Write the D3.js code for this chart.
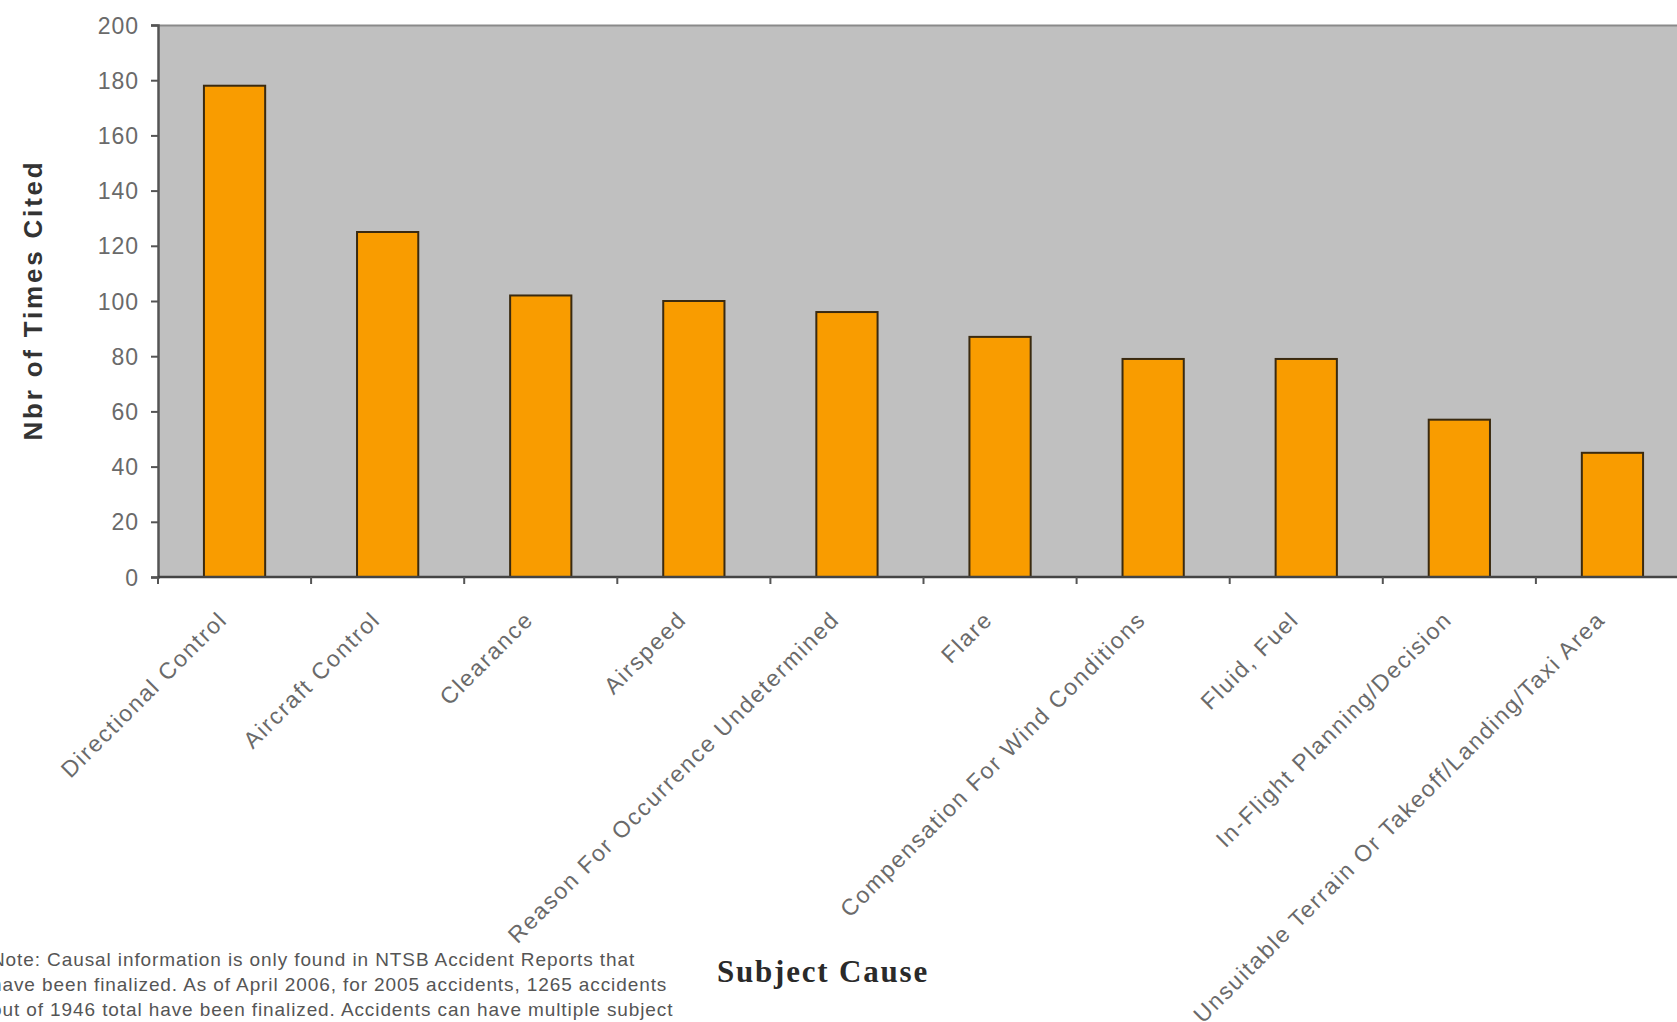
<!DOCTYPE html>
<html>
<head>
<meta charset="utf-8">
<script src="https://cdn.jsdelivr.net/npm/d3@7"></script>
<style>
  body { margin: 0; background: #fff; }
  svg { display: block; }
</style>
</head>
<body>
<div class="bar-chart"><svg></svg></div>
<script>
const causes = [
  "Directional Control",
  "Aircraft Control",
  "Clearance",
  "Airspeed",
  "Reason For Occurrence Undetermined",
  "Flare",
  "Compensation For Wind Conditions",
  "Fluid, Fuel",
  "In-Flight Planning/Decision",
  "Unsuitable Terrain Or Takeoff/Landing/Taxi Area",
];
const timesCited = [178, 125, 102, 100, 96, 87, 79, 79, 57, 45];
const yTicks = [0, 20, 40, 60, 80, 100, 120, 140, 160, 180, 200];
const noteLines = [
  "Note: Causal information is only found in NTSB Accident Reports that",
  "have been finalized.  As of April 2006, for 2005 accidents, 1265 accidents",
  "out of 1946 total have been finalized.  Accidents can have multiple subject",
];

document.addEventListener("DOMContentLoaded", function () {
  const svgWidth = 1677;
  const svgHeight = 1022;
  // plot runs off the right edge like in the original screenshot
  const margin = { top: 25, left: 158 };
  const width = 1531;
  const height = 552;

  const data = causes.map((c, i) => ({ cause: c, value: timesCited[i] }));

  const svg = d3
    .select(".bar-chart svg")
    .attr("width", svgWidth)
    .attr("height", svgHeight);

  const g = svg
    .append("g")
    .attr("transform", "translate(" + margin.left + "," + margin.top + ")");

  const x = d3
    .scaleBand()
    .domain(causes)
    .range([0, width])
    .paddingInner(0.6)
    .paddingOuter(0.3);

  const y = d3.scaleLinear().domain([0, 200]).range([height, 0]);

  // grey plot area
  g.append("rect")
    .attr("width", width)
    .attr("height", height)
    .attr("fill", "#c0c0c0");

  g.append("line")
    .attr("x1", 0)
    .attr("x2", width)
    .attr("y1", 0.5)
    .attr("y2", 0.5)
    .attr("stroke", "#8a8a8a")
    .attr("stroke-width", 2);

  g.selectAll(".bar")
    .data(data)
    .enter()
    .append("rect")
    .attr("class", "bar")
    .attr("x", (d) => x(d.cause))
    .attr("y", (d) => y(d.value))
    .attr("width", x.bandwidth())
    .attr("height", (d) => height - y(d.value))
    .attr("fill", "#f99c00")
    .attr("stroke", "#3a2a10")
    .attr("stroke-width", 2);

  const step = x.step();

  // y axis
  const yAxis = d3
    .axisLeft(y)
    .tickValues(yTicks)
    .tickSize(7)
    .tickPadding(12);

  const yg = g.append("g").call(yAxis);
  yg.select(".domain").attr("stroke", "#555").attr("stroke-width", 2.5);
  yg.selectAll(".tick line").attr("stroke", "#555").attr("stroke-width", 2);
  yg.selectAll(".tick text")
    .attr("fill", "#6a6a6a")
    .style("font-family", "Liberation Sans, Arial, sans-serif")
    .style("font-size", "23px")
    .style("letter-spacing", "1px")
    .attr("dy", "0.35em");

  // x axis line with ticks at band edges
  const xg = g.append("g").attr("transform", "translate(0," + height + ")");
  xg.append("line")
    .attr("x1", 0)
    .attr("x2", width)
    .attr("stroke", "#444")
    .attr("stroke-width", 2.5);

  xg.selectAll(".xtick")
    .data(d3.range(0, causes.length + 1))
    .enter()
    .append("line")
    .attr("class", "xtick")
    .attr("x1", (i) => i * step)
    .attr("x2", (i) => i * step)
    .attr("y1", 0)
    .attr("y2", 7)
    .attr("stroke", "#555")
    .attr("stroke-width", 2);

  // rotated category labels
  xg.selectAll(".xlabel")
    .data(causes)
    .enter()
    .append("text")
    .attr("class", "xlabel")
    .attr("text-anchor", "end")
    .attr(
      "transform",
      (d) =>
        "translate(" + (x(d) + x.bandwidth() / 2 - 6) + ",44) rotate(-45)"
    )
    .attr("fill", "#6a6a6a")
    .style("font-family", "Liberation Sans, Arial, sans-serif")
    .style("font-size", "23px")
    .style("letter-spacing", "1.8px")
    .text((d) => d);

  // axis titles
  svg
    .append("text")
    .attr("transform", "rotate(-90)")
    .attr("x", -300)
    .attr("y", 42)
    .attr("text-anchor", "middle")
    .attr("fill", "#333")
    .style("font-family", "Liberation Sans, Arial, sans-serif")
    .style("font-weight", "bold")
    .style("font-size", "26px")
    .style("letter-spacing", "2.8px")
    .text("Nbr of Times Cited");

  svg
    .append("text")
    .attr("x", 823)
    .attr("y", 982)
    .attr("text-anchor", "middle")
    .attr("fill", "#2a2a2a")
    .style("font-family", "Liberation Serif, Times New Roman, serif")
    .style("font-weight", "bold")
    .style("font-size", "31px")
    .style("letter-spacing", "1.8px")
    .text("Subject Cause");

  // footnote, clipped at the left edge
  svg
    .append("g")
    .selectAll("text")
    .data(noteLines)
    .enter()
    .append("text")
    .attr("x", -9)
    .attr("y", (d, i) => 966 + i * 25)
    .attr("fill", "#555")
    .style("font-family", "Liberation Sans, Arial, sans-serif")
    .style("font-size", "19px")
    .style("letter-spacing", "0.9px")
    .text((d) => d);
});
</script>
</body>
</html>
